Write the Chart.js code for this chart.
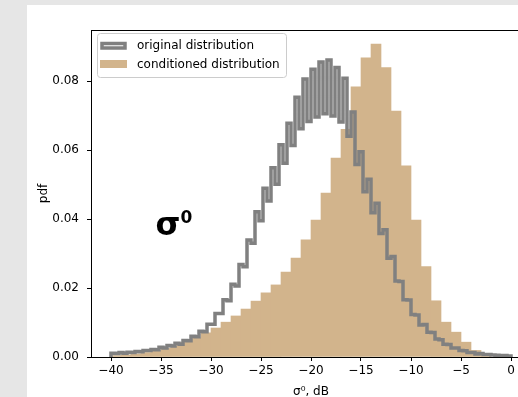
<!DOCTYPE html>
<html>
<head>
<meta charset="utf-8">
<script src="https://cdn.jsdelivr.net/npm/chart.js@4.4.0/dist/chart.umd.min.js"></script>
<style>
  body { margin: 0; background: #e6e6e6; width: 518px; height: 397px; overflow: hidden; }
  #wrap { position: absolute; left: 27px; top: 5px; width: 491px; height: 392px; background: #fff; }
</style>
</head>
<body>
<div id="wrap"><canvas id="histChart" width="491" height="392"></canvas></div>
<script>
// original distribution (step histogram, 0.4 dB bins from -40 dB)
var origBinStart = -40;
var origBinWidth = 0.4;
var origValues = [
    0.0011, 0.0010, 0.0013, 0.0011, 0.0014, 0.0013, 0.0016, 0.0015, 0.0019, 0.0019,
    0.0022, 0.0021, 0.0028, 0.0026, 0.0033, 0.0032, 0.0040, 0.0037, 0.0048, 0.0047,
    0.0060, 0.0059, 0.0075, 0.0073, 0.0095, 0.0095, 0.0126, 0.0126, 0.0166, 0.0163,
    0.0211, 0.0206, 0.0268, 0.0262, 0.0339, 0.0330, 0.0421, 0.0395, 0.0489, 0.0452,
    0.0549, 0.0501, 0.0615, 0.0562, 0.0678, 0.0613, 0.0753, 0.0662, 0.0806, 0.0683,
    0.0834, 0.0696, 0.0855, 0.0705, 0.0861, 0.0699, 0.0839, 0.0681, 0.0808, 0.0640,
    0.0710, 0.0558, 0.0595, 0.0479, 0.0515, 0.0418, 0.0446, 0.0358, 0.0369, 0.0286,
    0.0291, 0.0220, 0.0219, 0.0166, 0.0165, 0.0123, 0.0122, 0.0093, 0.0094, 0.0072,
    0.0071, 0.0052, 0.0050, 0.0037, 0.0036, 0.0026, 0.0026, 0.0019, 0.0018, 0.0013,
    0.0013, 0.0009, 0.0010, 0.0007, 0.0007, 0.0006, 0.0005, 0.0004, 0.0004, 0.0003
];

// conditioned distribution (1 dB bins from -40 dB)
var condBinStart = -40;
var condBinWidth = 1;
var condValues = [
    0.0004, 0.0006, 0.0009, 0.0013, 0.0018, 0.0025, 0.0033, 0.0043, 0.0055, 0.0070,
    0.0084, 0.0101, 0.0119, 0.0139, 0.0162, 0.0186, 0.0209, 0.0246, 0.0287, 0.0340,
    0.0397, 0.0475, 0.0577, 0.0660, 0.0783, 0.0867, 0.0907, 0.0839, 0.0713, 0.0554,
    0.0397, 0.0262, 0.0163, 0.0101, 0.0072, 0.0043, 0.0019, 0.0004
];

var xTicks = [-40, -35, -30, -25, -20, -15, -10, -5, 0];
var yTicks = [0, 0.02, 0.04, 0.06, 0.08];
var seriesLabels = ['original distribution', 'conditioned distribution'];

window.onload = function(){
    Chart.defaults.font.family = 'DejaVu Sans';
    Chart.defaults.font.size = 12;
    Chart.defaults.color = '#000';

    // outline of the step histogram, starting and ending on zero
    var origPoints = [{x: origBinStart, y: 0}];
    origValues.forEach(function(v, i){
        origPoints.push({x: origBinStart + i * origBinWidth, y: v});
    });
    var origEnd = origBinStart + origValues.length * origBinWidth;
    origPoints.push({x: origEnd, y: origValues[origValues.length - 1]});
    origPoints.push({x: origEnd, y: 0});

    var condPoints = condValues.map(function(v, i){
        return {x: condBinStart + (i + 0.5) * condBinWidth, y: v};
    });

    var decor = {
        id: 'decor',
        afterDraw: function(chart){
            var c = chart.ctx, a = chart.chartArea;
            var xs = chart.scales.x, ys = chart.scales.y;
            c.save();
            // top spine
            c.strokeStyle = '#000';
            c.lineWidth = 1;
            c.beginPath();
            c.moveTo(a.left, a.top + 0.5);
            c.lineTo(a.right, a.top + 0.5);
            c.stroke();

            // sigma label
            c.fillStyle = '#000';
            c.textBaseline = 'alphabetic';
            c.textAlign = 'left';
            c.font = 'bold 32px "DejaVu Sans"';
            var sx = xs.getPixelForValue(-35.55), sy = ys.getPixelForValue(0.0354);
            c.fillText('σ', sx, sy);
            var sw = c.measureText('σ').width;
            c.font = 'bold 17px "DejaVu Sans"';
            c.fillText('0', sx + sw, sy - 12);

            // x axis title, centred on the full axes width
            c.font = '12px "DejaVu Sans"';
            c.textAlign = 'center';
            c.fillText('σ⁰, dB', xs.getPixelForValue(-20), chart.height - 2);

            // legend
            var lx = a.left + 6, ly = a.top + 3, lw = 189, lh = 44;
            c.fillStyle = 'rgba(255,255,255,0.8)';
            c.strokeStyle = '#cccccc';
            c.lineWidth = 1;
            c.beginPath();
            c.roundRect(lx + 0.5, ly + 0.5, lw, lh, 3);
            c.fill();
            c.stroke();

            c.strokeStyle = chart.data.datasets[0].borderColor;
            c.lineWidth = 3.5;
            c.lineJoin = 'miter';
            c.strokeRect(a.left + 11, a.top + 13.5, 23, 4.5);
            c.fillStyle = chart.data.datasets[1].backgroundColor;
            c.fillRect(a.left + 9, a.top + 30, 27, 8);

            c.fillStyle = '#000';
            c.textAlign = 'left';
            c.textBaseline = 'middle';
            c.font = '12px "DejaVu Sans"';
            c.fillText(seriesLabels[0], a.left + 46, a.top + 16);
            c.fillText(seriesLabels[1], a.left + 46, a.top + 34.5);
            c.restore();
        }
    };

    var ctx = document.getElementById('histChart').getContext('2d');
    window.histChart = new Chart(ctx, {
        data: {
            datasets: [{
                type: 'line',
                label: seriesLabels[0],
                data: origPoints,
                borderColor: '#808080',
                borderWidth: 3.5,
                borderJoinStyle: 'miter',
                stepped: true,
                pointRadius: 0,
                fill: false,
                order: 0
            }, {
                type: 'bar',
                label: seriesLabels[1],
                data: condPoints,
                backgroundColor: '#d2b48c',
                borderWidth: 0,
                barPercentage: 1,
                categoryPercentage: 1,
                order: 1
            }]
        },
        options: {
            responsive: false,
            animation: false,
            devicePixelRatio: 1,
            layout: { padding: { left: 6, top: 25, right: 0, bottom: 0 } },
            plugins: {
                legend: { display: false },
                tooltip: { enabled: false }
            },
            scales: {
                x: {
                    type: 'linear',
                    min: -42,
                    max: 0.7,
                    offset: false,
                    afterBuildTicks: function(s){ s.ticks = xTicks.map(function(v){ return {value: v}; }); },
                    afterFit: function(s){ s.height = 40; },
                    ticks: {
                        autoSkip: false,
                        maxRotation: 0,
                        padding: 3,
                        callback: function(v){ return String(v).replace('-', '\u2212'); }
                    },
                    grid: { offset: false, drawOnChartArea: false, drawTicks: true, tickLength: 4, tickColor: '#000' },
                    border: { color: '#000', width: 1 }
                },
                y: {
                    type: 'linear',
                    min: 0,
                    max: 0.0948,
                    afterBuildTicks: function(s){ s.ticks = yTicks.map(function(v){ return {value: v}; }); },
                    afterFit: function(s){ s.width = 58; },
                    ticks: {
                        autoSkip: false,
                        padding: 8,
                        callback: function(v){ return v.toFixed(2); }
                    },
                    grid: { drawOnChartArea: false, drawTicks: true, tickLength: 4, tickColor: '#000' },
                    border: { color: '#000', width: 1 },
                    title: { display: true, text: 'pdf', padding: { top: 4, bottom: 4 } }
                }
            }
        },
        plugins: [decor]
    });
};
</script>
</body>
</html>
